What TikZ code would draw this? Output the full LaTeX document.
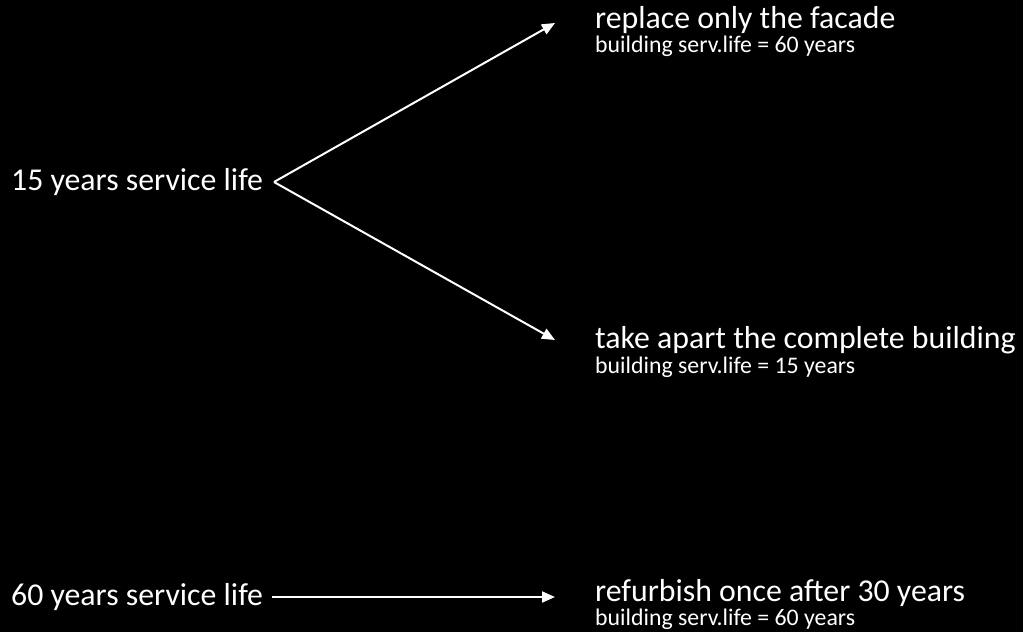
\documentclass[tikz,border=0pt]{standalone}
\usepackage{fontspec}
\setmainfont{Carlito}
\usetikzlibrary{arrows.meta}
\begin{document}
\begin{tikzpicture}[x=1pt,y=-1pt,
  big/.style={text=white,font=\fontsize{31.8}{34}\selectfont,anchor=base west,inner sep=0pt},
  small/.style={text=white,font=\fontsize{23.8}{26}\selectfont,anchor=base west,inner sep=0pt},
  arr/.style={draw=white,line width=2pt,-{Triangle[length=13pt,width=11pt]}}]
\fill[black] (0,0) rectangle (1023,632);
\useasboundingbox (0,0) rectangle (1023,632);
\node[big] (s15) at (11,190) {15 years service life};
\coordinate (o15) at (274,182);
\coordinate (t1) at (555,23);
\coordinate (t2) at (555,340);
\node[big] (r1) at (595,28) {replace only the facade};
\node[small] (r1s) at (595,52) {building serv.life = 60 years};
\node[big] (r2) at (595,348) {take apart the complete building};
\node[small] (r2s) at (595,373) {building serv.life = 15 years};
\draw[arr] (o15) -- (t1);
\draw[arr] (o15) -- (t2);
\node[big] (s60) at (11,605) {60 years service life};
\coordinate (o60) at (272,597);
\coordinate (t3) at (555,597);
\draw[arr] (o60) -- (t3);
\node[big] (r3) at (595,601) {refurbish once after 30 years};
\node[small] (r3s) at (595,625) {building serv.life = 60 years};
\end{tikzpicture}
\end{document}
